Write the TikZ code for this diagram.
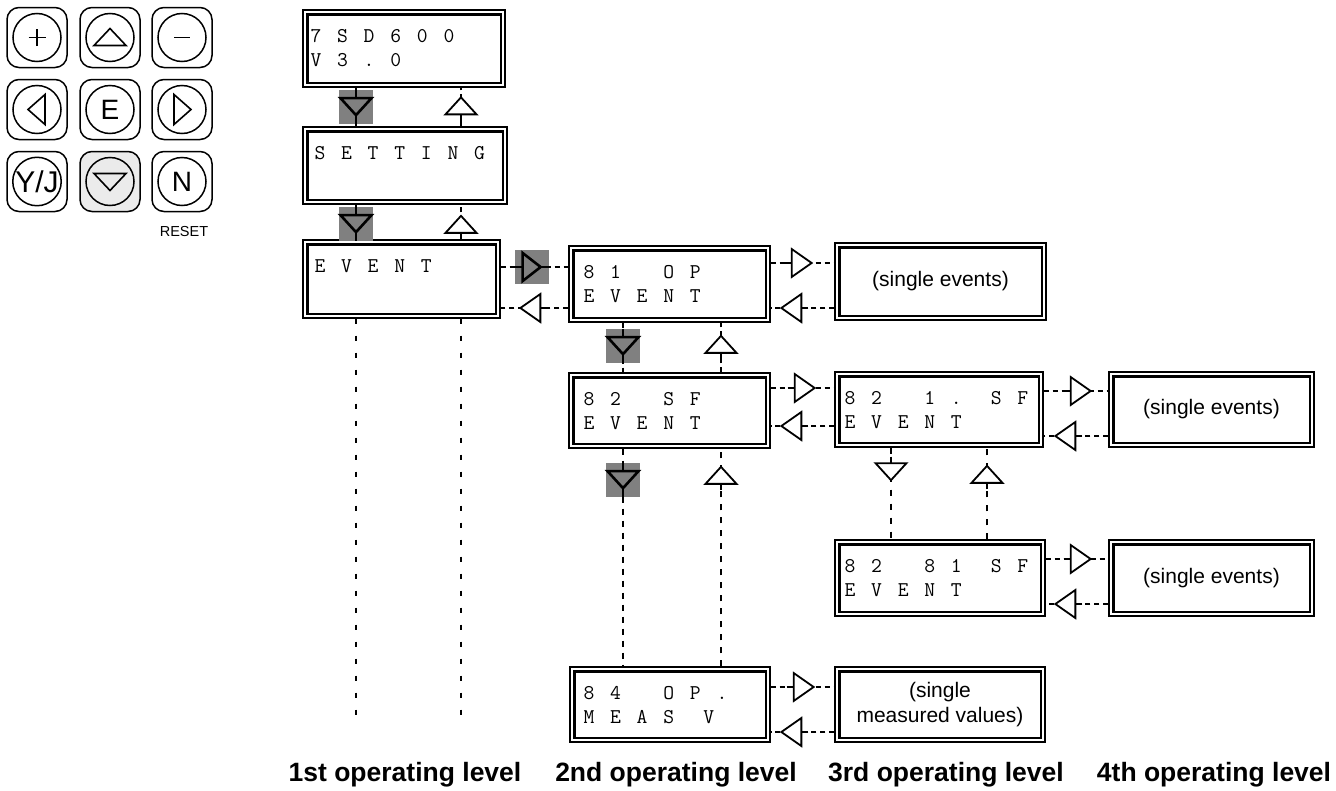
\documentclass[tikz,border=0pt]{standalone}
\usepackage{fontspec}
\setmainfont{Liberation Sans}
\usetikzlibrary{decorations.markings}

\newlength\lcdpitch
\setlength\lcdpitch{13.3pt}
\makeatletter
\def\lcd@blank{*}
\newcommand\lcdstr[1]{\@tfor\lcd@c:=#1\do{\makebox[\lcdpitch][l]{\ifx\lcd@c\lcd@blank\else\lcd@c\fi}}}
\makeatother

\tikzset{
  outerbox/.style={draw, line width=1.3pt, inner sep=0pt, fill=white},
  innerbox/.style={line width=2.3pt},
  lcd/.style={font=\ttfamily\fontsize{21}{24}\selectfont, inner sep=0pt},
  evt/.style={font=\fontsize{21}{25}\selectfont, align=center, inner sep=0pt},
  level/.style={font=\bfseries\fontsize{26.5}{28}\selectfont, inner sep=0pt, anchor=base},
  conn/.style={line width=1.8pt, dash pattern=on 5pt off 4pt},
  thickc/.style={line width=2.4pt},
  longdash/.style={line width=2pt, dash pattern=on 5pt off 12pt},
  hm/.style={postaction={decorate,decoration={markings,mark=at position #1 with {
      \draw[solid,line width=1.8pt] (-17,0)--(-10,0);
      \draw[solid,line width=1.8pt,fill=white,line join=miter] (-10,-14)--(10,0)--(-10,14)--cycle;}}}},
  vm/.style={postaction={decorate,decoration={markings,mark=at position #1 with {
      \draw[solid,line width=1.8pt] (-15,0)--(-8.5,0);
      \draw[solid,line width=1.8pt,fill=white,line join=miter] (-8.5,-15.5)--(8.5,0)--(-8.5,15.5)--cycle;}}}},
  gvm/.style={postaction={decorate,decoration={markings,mark=at position #1 with {
      \fill[gray] (-17,-17) rectangle (17,17);
      \draw[solid,line width=2.6pt] (-17,0)--(-8.5,0) (8.5,0)--(17,0);
      \draw[solid,line width=2.6pt,line join=miter] (-8.5,-15.5)--(8.5,0)--(-8.5,15.5)--cycle;}}}},
  ghm/.style={postaction={decorate,decoration={markings,mark=at position #1 with {
      \fill[gray] (-17,-17) rectangle (17,17);
      \draw[solid,line width=2.6pt] (-17,0)--(-9,0) (9,0)--(17,0);
      \draw[solid,line width=2.6pt,line join=miter] (-9,-14)--(9,0)--(-9,14)--cycle;}}}},
  keybox/.style={draw, rounded corners=12pt, minimum width=60pt, minimum height=60pt, line width=1.5pt, inner sep=0pt},
  keycirc/.style={draw, circle, minimum size=48pt, line width=1.5pt, inner sep=0pt, font=\fontsize{28}{28}\selectfont},
  keytri/.style={line width=1.6pt, line join=miter},
  keysym/.style={line width=1.4pt},
}

% name, left, top, right, bottom, x-offset, line1, line2  (* = blank column)
\newcommand\lcdbox[8]{%
  \node[outerbox, minimum width={#4-#2}, minimum height={#5-#3}] (#1) at ({(#2+#4)/2},{(#3+#5)/2}) {};
  \draw[innerbox] ([xshift=5pt,yshift=-5pt]#1.north west) rectangle ([xshift=-5pt,yshift=5pt]#1.south east);
  \node[lcd, anchor=base west] (#1-a) at ([xshift=#6pt,yshift=-33pt]#1.north west) {\lcdstr{#7}};
  \node[lcd, anchor=base west] (#1-b) at ([xshift=#6pt,yshift=-57pt]#1.north west) {\lcdstr{#8}};
}
% name, left, top, right, bottom, text
\newcommand\evbox[6]{%
  \node[outerbox, minimum width={#4-#2}, minimum height={#5-#3}] (#1) at ({(#2+#4)/2},{(#3+#5)/2}) {};
  \draw[innerbox] ([xshift=5pt,yshift=-5pt]#1.north west) rectangle ([xshift=-5pt,yshift=5pt]#1.south east);
  \node[evt] (#1-t) at (#1) {#6};
}

\begin{document}
\begin{tikzpicture}[x=1pt,y=-1pt]
\useasboundingbox (0,0) rectangle (1336,790);

% ---------------- keypad ----------------
\node[keybox] (kplus) at (37,37.5) {};
\node[keycirc] (kplusc) at (kplus) {};
\draw[keysym] ([xshift=-8.5pt]kplusc.center) -- ([xshift=8.5pt]kplusc.center)
              ([yshift=-8.5pt]kplusc.center) -- ([yshift=8.5pt]kplusc.center);
\node[keybox] (kup) at (110,37.5) {};
\node[keycirc] (kupc) at (kup) {};
\draw[keytri] ([xshift=-16pt,yshift=-8pt]kupc.center) -- ([yshift=9pt]kupc.center) -- ([xshift=16pt,yshift=-8pt]kupc.center) -- cycle;
\node[keybox] (kminus) at (182,37.5) {};
\node[keycirc] (kminusc) at (kminus) {};
\draw[keysym] ([xshift=-8pt]kminusc.center) -- ([xshift=8pt]kminusc.center);

\node[keybox] (kleft) at (37,109.5) {};
\node[keycirc] (kleftc) at (kleft) {};
\draw[keytri] ([xshift=8pt,yshift=15pt]kleftc.center) -- ([xshift=-9pt]kleftc.center) -- ([xshift=8pt,yshift=-15pt]kleftc.center) -- cycle;
\node[keybox] (ke) at (110,109.5) {};
\node[keycirc] (kec) at (ke) {E};
\node[keybox] (kright) at (182,109.5) {};
\node[keycirc] (krightc) at (kright) {};
\draw[keytri] ([xshift=-8pt,yshift=15pt]krightc.center) -- ([xshift=9pt]krightc.center) -- ([xshift=-8pt,yshift=-15pt]krightc.center) -- cycle;

\node[keybox] (kyes) at (37,181.5) {};
\node[keycirc] (kyesc) at (kyes) {\fontsize{30}{30}\selectfont Y/J};
\node[keybox, fill=black!8] (kdown) at (110,181.5) {};
\node[keycirc] (kdownc) at (kdown) {};
\draw[keytri] ([xshift=-16pt,yshift=8pt]kdownc.center) -- ([yshift=-9pt]kdownc.center) -- ([xshift=16pt,yshift=8pt]kdownc.center) -- cycle;
\node[keybox] (kno) at (182,181.5) {};
\node[keycirc] (knoc) at (kno) {N};
\node[font=\fontsize{14.5}{15}\selectfont, inner sep=0pt] (kreset) at (184,232) {RESET};

% ---------------- screens ----------------
\lcdbox{b1}{303}{10}{505}{87}{8}{7*S*D*6*0*0}{V*3*.*0}
\lcdbox{b2}{303}{127}{507}{204}{12}{S*E*T*T*I*N*G}{}
\lcdbox{b3}{303}{240}{500}{318}{12}{E*V*E*N*T}{}
\lcdbox{b81}{569}{246}{770}{322}{15}{8*1***O*P}{E*V*E*N*T}
\lcdbox{b82}{569}{373}{770}{448}{15}{8*2***S*F}{E*V*E*N*T}
\lcdbox{b84}{570}{667}{770}{742}{14}{8*4***O*P*.}{M*E*A*S**V}
\lcdbox{b821}{835}{372}{1043}{447}{10}{8*2***1*.**S*F}{E*V*E*N*T}
\lcdbox{b8281}{835}{540}{1045}{616}{10}{8*2***8*1**S*F}{E*V*E*N*T}

\evbox{s1}{835}{243}{1046}{320}{(single events)}
\evbox{s2}{1109}{372}{1314}{447}{(single events)}
\evbox{s3}{1109}{540}{1314}{616}{(single events)}
\evbox{s4}{835}{667}{1045}{742}{(single\\measured values)}

% ---------------- connectors, 1st level ----------------
\draw[conn,thickc,gvm=19pt] (b1.south -| 356,0) -- (b2.north -| 356,0);
\draw[conn,vm=20.5pt] (b2.north -| 461,0) -- (b1.south -| 461,0);
\draw[conn,thickc,gvm=19pt] (b2.south -| 356,0) -- (b3.north -| 356,0);
\draw[conn,vm=15pt] (b3.north -| 461,0) -- (b2.south -| 461,0);
\coordinate (e1) at (356,720);
\coordinate (e2) at (461,720);
\draw[longdash] (b3.south -| e1) -- (e1);
\draw[longdash] (b3.south -| e2) -- (e2);

% ---------------- 1st <-> 2nd ----------------
\draw[conn,ghm=31pt] (b3.east |- 0,267) -- (b81.west |- 0,267);
\draw[conn,hm=38pt] (b81.west |- 0,308) -- (b3.east |- 0,308);

% ---------------- 2nd level ----------------
\draw[conn,gvm=23pt] (b81.south -| 623,0) -- (b82.north -| 623,0);
\draw[conn,vm=28pt] (b82.north -| 721,0) -- (b81.south -| 721,0);
\draw[line width=2.8pt, dash pattern=on 6pt off 6pt, gvm=31pt] (b82.south -| 623,0) -- (b84.north -| 623,0);
\draw[line width=2pt, dash pattern=on 6pt off 7pt, vm=191pt] (b84.north -| 721,0) -- (b82.south -| 721,0);

% ---------------- 2nd <-> 3rd ----------------
\draw[conn,hm=31pt] (b81.east |- 0,263) -- (s1.west |- 0,263);
\draw[conn,hm=43pt] (s1.west |- 0,308) -- (b81.east |- 0,308);
\draw[conn,hm=34pt] (b82.east |- 0,388) -- (b821.west |- 0,388);
\draw[conn,hm=43pt] (b821.west |- 0,426) -- (b82.east |- 0,426);
\draw[conn,hm=33pt] (b84.east |- 0,687) -- (s4.west |- 0,687);
\draw[conn,hm=43pt] (s4.west |- 0,732) -- (b84.east |- 0,732);

% ---------------- 3rd level ----------------
\draw[line width=1.8pt, dash pattern=on 6pt off 8pt, vm=24pt] (b821.south -| 891,0) -- (b8281.north -| 891,0);
\draw[line width=1.8pt, dash pattern=on 6pt off 8pt, vm=65pt] (b8281.north -| 987,0) -- (b821.south -| 987,0);

% ---------------- 3rd <-> 4th ----------------
\draw[conn,hm=37pt] (b821.east |- 0,391) -- (s2.west |- 0,391);
\draw[conn,hm=43pt] (s2.west |- 0,436) -- (b821.east |- 0,436);
\draw[conn,hm=35pt] (b8281.east |- 0,559) -- (s3.west |- 0,559);
\draw[conn,hm=43pt] (s3.west |- 0,604) -- (b8281.east |- 0,604);

% ---------------- level labels ----------------
\node[level] (l1) at (405,781) {1st operating level};
\node[level] (l2) at (676,781) {2nd operating level};
\node[level] (l3) at (946,781) {3rd operating level};
\node[level] (l4) at (1214,781) {4th operating level};
\end{tikzpicture}
\end{document}
